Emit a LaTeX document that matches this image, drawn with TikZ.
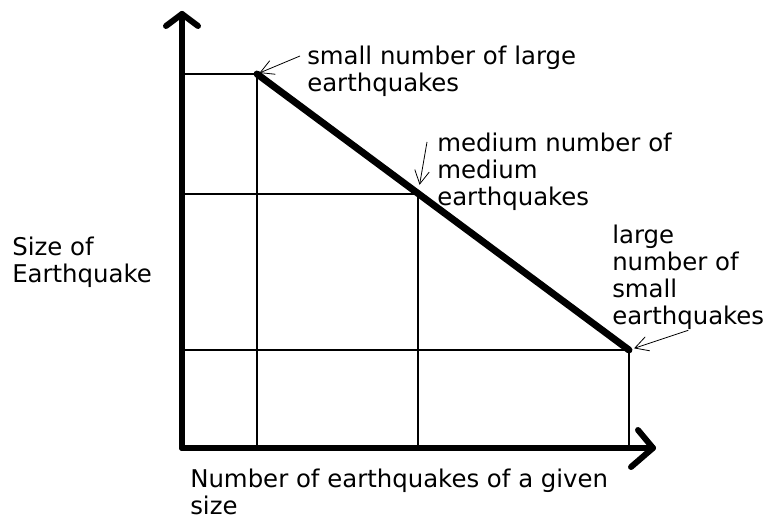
\documentclass[tikz,border=0pt]{standalone}
\usepackage{fontspec}
\setmainfont{DejaVu Sans}
\usetikzlibrary{arrows.meta}

\begin{document}
\begin{tikzpicture}[
    x=0.75pt, y=-0.75pt,
    axis/.style={line width=4.5pt, line cap=round, line join=round},
    grid/.style={line width=0.9pt},
    trend/.style={line width=5.2pt, line cap=round},
    label/.style={anchor=base west, inner sep=0pt, align=left,
                  font=\fontsize{18.3}{20.25}\selectfont},
    pointer/.style={line width=0.6pt, -{Straight Barb[length=10pt,width=11pt]}}
]
\useasboundingbox (0,0) rectangle (772,523);

% axes
\coordinate (o) at (182,448);
\coordinate (ytop) at (182,14);
\coordinate (xend) at (653,448);
\draw[axis] (o) -- (ytop);
\draw[axis] (o) -- (xend);
\draw[axis] (166,26) -- (ytop) -- (198,26);
\draw[axis] (638,430) -- (xend) -- (631,467);

% points on the line
\coordinate (big) at (257,74);
\coordinate (mid) at (418,194);
\coordinate (small) at (629,350);

% grid
\foreach \p in {big,mid,small}
  \draw[grid] (o |- \p) -- (\p) -- (\p |- o);

\draw[trend] (big) -- (small);

% labels (base = last line)
\node[label] (lbig) at (307,92) {small number of large\\earthquakes};
\node[label] (lmid) at (437,206) {medium number of\\medium\\earthquakes};
\node[label] (lsmall) at (612,325) {large\\number of\\small\\earthquakes};
\node[label] (ysize) at (12,283) {Size of\\Earthquake};
\node[label] (xnum) at (190,515) {Number of earthquakes of a given\\size};

\draw[pointer, shorten >=2pt] ([shift={(-7,-36)}]lbig.base west) -- (big);
\draw[pointer, shorten >=7pt] ([shift={(-10,-64)}]lmid.base west) -- (mid);
\draw[pointer, shorten >=4pt] (lsmall.south) -- (small);
\end{tikzpicture}
\end{document}
